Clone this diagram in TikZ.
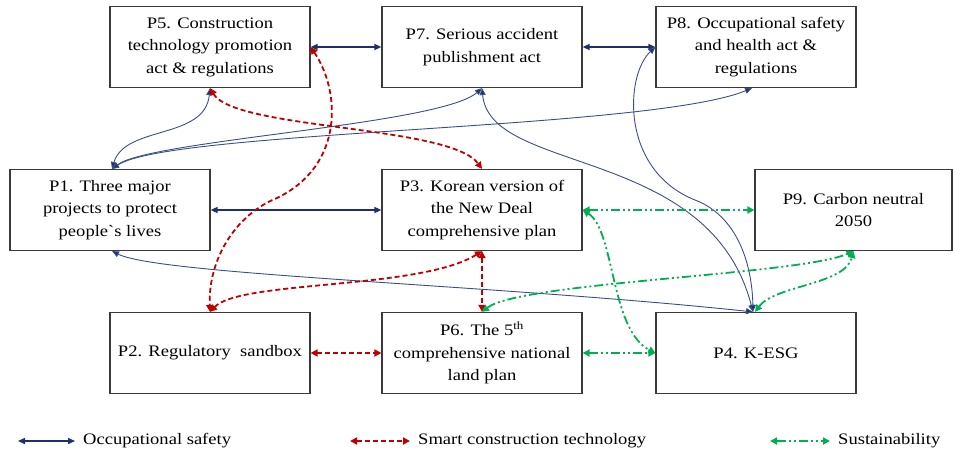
\documentclass[tikz,border=0pt]{standalone}
\usepackage{fontspec}
\setmainfont{Liberation Serif}[FakeStretch=1.16]
\newfontfamily\plainSerif{Liberation Serif}[FakeStretch=1.16, Ligatures=TeXOff]
\usetikzlibrary{arrows.meta}
\definecolor{navyC}{HTML}{1F2F6B}
\definecolor{navyCurve}{HTML}{3A4F86}
\definecolor{redC}{HTML}{C00000}
\definecolor{greenC}{HTML}{00B050}
\definecolor{boxC}{HTML}{3A3A3A}
\tikzset{
  box/.style={draw=boxC, line width=1.2pt, minimum width=200pt, minimum height=81pt,
    align=center, inner sep=2pt, font=\fontsize{16}{22.5}\selectfont},
  tipN/.tip={Triangle[length=7pt,width=6pt]},
  occ/.style={draw=navyC, line width=1.4pt, tipN-tipN},
  occc/.style={draw=navyCurve, line width=0.9pt, {Triangle[length=7pt,width=6pt,fill=navyC]}-{Triangle[length=7pt,width=6pt,fill=navyC]}},
  smart/.style={draw=redC, line width=1.8pt, dash pattern=on 5pt off 3pt, {Triangle[length=7pt,width=7pt]}-{Triangle[length=7pt,width=7pt]}},
  sus/.style={draw=greenC, line width=1.8pt, dash pattern=on 9pt off 3pt on 2pt off 3pt on 2pt off 3pt, {Triangle[length=7pt,width=7pt]}-{Triangle[length=7pt,width=7pt]}},
  legtext/.style={anchor=west, inner sep=0pt, font=\fontsize{16}{20}\selectfont}
}
\begin{document}
\begin{tikzpicture}[x=1pt,y=-1pt]
\useasboundingbox (0,0) rectangle (953,453);
% boxes
\node[box] (P5) at (210,47) {P5. Construction\\technology promotion\\act \& regulations};
\node[box] (P7) at (482,47) {P7. Serious accident\\publishment act};
\node[box] (P8) at (756,47) {P8. Occupational safety\\and health act \&\\regulations};
\node[box] (P1) at (110,210) {P1. Three major\\projects to protect\\{\plainSerif people`s} lives};
\node[box] (P3) at (482,210) {P3. Korean version of\\the New Deal\\comprehensive plan};
\node[box, minimum width=197pt] (P9) at (853.5,210) {P9. Carbon neutral\\2050};
\node[box] (P2) at (210,353) {P2. Regulatory\ \ sandbox};
\node[box] (P6) at (482,353) {P6. The 5\textsuperscript{th}\\comprehensive national\\land plan};
\node[box] (P4) at (756,353) {P4. K-ESG};

% occupational safety (navy)
\draw[occ] (P5.east) -- (P7.west);
\draw[occ] (P7.east) -- (P8.west);
\draw[occ] (P1.east) -- (P3.west);
\draw[occc] ([xshift=2pt]P1.north) .. controls (125,125) and (205,140) .. (P5.south);
\draw[occc] ([xshift=2pt]P1.north) .. controls (150,140) and (440,125) .. (P7.south);
\draw[occc] ([xshift=2pt]P1.north) .. controls (170,130) and (650,130) .. ([xshift=-4pt]P8.south);
\draw[occc] (P7.south) .. controls (490,175) and (710,145) .. ([xshift=-3pt]P4.north);
\draw[occc] (P8.west) .. controls (625,75) and (620,170) .. (695,200) .. controls (735,215) and (752,260) .. ([xshift=-3pt]P4.north);
\draw[occc] ([xshift=2pt]P1.south) .. controls (160,275) and (500,285) .. ([xshift=-3pt]P4.north);

% smart construction technology (red)
\draw[smart] (P5.south) .. controls (235,130) and (450,125) .. (P3.north);
\draw[smart] (P5.east) .. controls (340,90) and (345,165) .. (277,198) .. controls (235,215) and (208,260) .. (P2.north);
\draw[smart] (P2.north) .. controls (240,280) and (420,290) .. (P3.south);
\draw[smart] (P3.south) -- (P6.north);
\draw[smart] (P2.east) -- (P6.west);

% sustainability (green)
\draw[sus] (P3.east) -- (P9.west);
\draw[sus] (P3.east) .. controls (615,230) and (610,330) .. (P4.west);
\draw[sus] (P6.east) -- (P4.west);
\draw[sus] (P6.north) .. controls (520,282) and (800,275) .. (P9.south);
\draw[sus] ([xshift=-1pt]P4.north) .. controls (775,285) and (845,285) .. (P9.south);

% legend
\coordinate (La) at (18,441);
\coordinate (Lb) at (75,441);
\node[legtext] (Lt1) at (83,441) {Occupational safety};
\coordinate (Ra) at (350,441);
\coordinate (Rb) at (410,441);
\node[legtext] (Lt2) at (418,441) {Smart construction technology};
\coordinate (Ga) at (770,441);
\coordinate (Gb) at (830,441);
\node[legtext] (Lt3) at (838,441) {Sustainability};
\draw[occ] (La) -- (Lb);
\draw[smart] (Ra) -- (Rb);
\draw[sus] (Ga) -- (Gb);
\end{tikzpicture}
\end{document}
